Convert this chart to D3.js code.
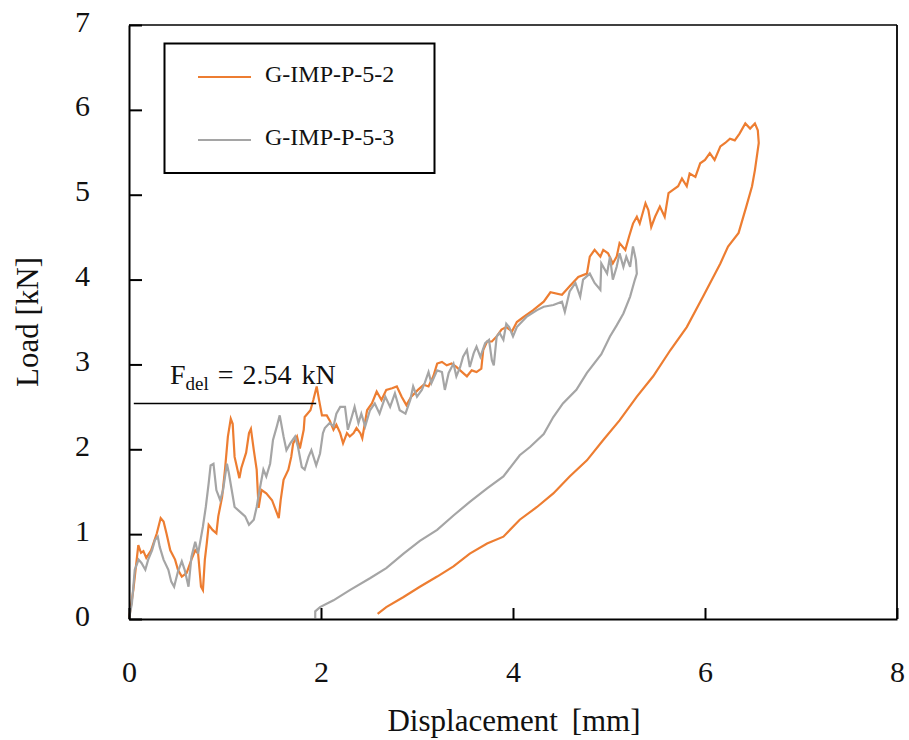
<!DOCTYPE html>
<html>
<head>
<meta charset="utf-8">
<script src="https://cdn.jsdelivr.net/npm/d3@7"></script>
<style>
  html, body { margin: 0; padding: 0; background: #fff; }
  svg { display: block; font-family: "Liberation Serif", "DejaVu Serif", serif; }
</style>
</head>
<body>
<svg id="chart" width="909" height="740"></svg>
<script>
// ---------- data ----------
const seriesNames = ["G-IMP-P-5-2", "G-IMP-P-5-3"];
const xTicks = [0, 2, 4, 6, 8];
const yTicks = [0, 1, 2, 3, 4, 5, 6, 7];
const fDel = 2.54;
const fDelStart = 0.05, fDelEnd = 1.95;

// G-IMP-P-5-2 (orange): displacement [mm], load [kN]
const disp52 = [0,0.045,0.097,0.125,0.15,0.18,0.23,0.29,0.33,0.36,0.39,0.43,0.48,0.51,0.55,0.60,0.65,0.69,0.72,0.75,0.77,0.79,0.81,0.83,0.87,0.91,0.93,0.97,1.00,1.03,1.06,1.08,1.10,1.15,1.17,1.22,1.25,1.27,1.30,1.33,1.35,1.38,1.43,1.49,1.53,1.56,1.58,1.61,1.66,1.69,1.71,1.75,1.78,1.82,1.83,1.89,1.92,1.955,1.98,2.01,2.06,2.09,2.13,2.16,2.20,2.23,2.27,2.30,2.34,2.37,2.41,2.43,2.48,2.53,2.58,2.63,2.68,2.74,2.79,2.84,2.89,2.94,3.01,3.07,3.12,3.17,3.21,3.26,3.31,3.36,3.41,3.47,3.52,3.57,3.62,3.67,3.69,3.73,3.78,3.83,3.88,3.93,3.99,4.04,4.10,4.21,4.32,4.39,4.51,4.59,4.68,4.77,4.80,4.85,4.91,4.94,4.99,5.04,5.08,5.11,5.17,5.21,5.25,5.29,5.32,5.38,5.41,5.44,5.48,5.53,5.58,5.62,5.67,5.72,5.76,5.81,5.84,5.90,5.95,6.00,6.05,6.10,6.16,6.21,6.26,6.31,6.36,6.42,6.47,6.52,6.55,6.56,
  6.52,6.49,6.43,6.35,6.24,6.16,5.98,5.81,5.64,5.46,5.29,5.11,4.94,4.77,4.59,4.42,4.25,4.07,3.90,3.73,3.55,3.38,3.21,3.03,2.86,2.68,2.59];
const load52 = [0,0.34,0.87,0.78,0.80,0.72,0.81,1.01,1.19,1.15,1.01,0.81,0.70,0.58,0.50,0.54,0.70,0.81,0.77,0.38,0.34,0.70,0.89,1.11,1.05,1.01,1.21,1.44,1.76,2.15,2.36,2.30,1.91,1.66,1.78,1.96,2.19,2.24,1.99,1.76,1.31,1.52,1.48,1.40,1.28,1.19,1.40,1.64,1.76,1.91,2.07,2.15,2.01,2.23,2.38,2.46,2.58,2.74,2.58,2.40,2.40,2.34,2.23,2.29,2.19,2.07,2.19,2.15,2.19,2.25,2.19,2.13,2.46,2.54,2.68,2.58,2.70,2.72,2.74,2.62,2.52,2.62,2.70,2.76,2.74,2.86,3.01,3.03,2.99,3.01,2.97,2.91,2.86,2.93,2.91,2.95,3.17,3.27,3.27,3.33,3.41,3.44,3.39,3.50,3.55,3.64,3.74,3.85,3.82,3.92,4.03,4.07,4.27,4.35,4.27,4.35,4.31,4.19,4.27,4.43,4.35,4.51,4.66,4.74,4.66,4.90,4.82,4.62,4.74,4.86,4.74,5.02,5.06,5.10,5.19,5.10,5.25,5.21,5.37,5.41,5.49,5.41,5.57,5.61,5.66,5.64,5.72,5.84,5.78,5.84,5.76,5.61,
  5.29,5.10,4.86,4.55,4.39,4.19,3.80,3.44,3.17,2.86,2.62,2.34,2.11,1.87,1.68,1.48,1.32,1.17,0.97,0.89,0.77,0.62,0.50,0.38,0.26,0.14,0.06];

// G-IMP-P-5-3 (grey)
const disp53 = [0,0.03,0.06,0.10,0.13,0.17,0.20,0.24,0.27,0.30,0.32,0.36,0.41,0.44,0.47,0.51,0.55,0.58,0.62,0.65,0.69,0.72,0.77,0.80,0.83,0.85,0.88,0.91,0.95,0.98,1.02,1.04,1.07,1.10,1.16,1.21,1.25,1.30,1.33,1.36,1.40,1.43,1.47,1.50,1.54,1.57,1.61,1.64,1.68,1.73,1.76,1.80,1.83,1.87,1.90,1.95,1.99,2.02,2.04,2.09,2.13,2.16,2.20,2.25,2.28,2.32,2.35,2.39,2.42,2.46,2.51,2.56,2.61,2.67,2.72,2.77,2.82,2.88,2.93,2.96,3.00,3.05,3.08,3.12,3.15,3.21,3.26,3.29,3.33,3.38,3.41,3.45,3.48,3.52,3.55,3.59,3.62,3.66,3.71,3.75,3.78,3.80,3.83,3.86,3.90,3.93,3.96,4.00,4.04,4.14,4.25,4.32,4.42,4.51,4.54,4.59,4.65,4.70,4.73,4.80,4.85,4.91,4.92,4.98,5.01,5.04,5.08,5.11,5.15,5.18,5.22,5.25,5.28,5.29,
  5.27,5.22,5.15,5.08,5.01,4.92,4.77,4.66,4.52,4.42,4.32,4.18,4.07,3.90,3.73,3.55,3.38,3.21,3.03,2.86,2.68,2.51,2.30,2.13,1.99,1.94,1.94];
const load53 = [0,0.18,0.58,0.70,0.66,0.58,0.70,0.81,0.93,0.97,0.85,0.70,0.58,0.44,0.38,0.56,0.68,0.58,0.38,0.73,0.91,0.77,1.09,1.32,1.60,1.81,1.83,1.52,1.40,1.52,1.83,1.72,1.52,1.32,1.26,1.21,1.11,1.17,1.32,1.52,1.76,1.68,1.83,2.11,2.27,2.40,2.15,1.99,2.07,2.15,2.03,1.79,1.76,1.91,1.99,1.81,1.95,2.19,2.25,2.31,2.27,2.42,2.50,2.50,2.23,2.38,2.50,2.31,2.42,2.27,2.46,2.54,2.42,2.62,2.50,2.66,2.46,2.42,2.58,2.74,2.62,2.70,2.78,2.91,2.78,2.93,2.91,2.70,2.90,3.01,2.86,2.97,3.09,3.17,2.97,3.13,3.21,3.09,3.25,3.29,3.05,2.99,3.33,3.37,3.29,3.48,3.44,3.33,3.44,3.56,3.64,3.68,3.70,3.74,3.62,3.86,3.96,3.80,4.00,4.07,3.96,3.88,4.19,4.07,4.27,4.00,4.15,4.31,4.15,4.27,4.15,4.39,4.23,4.07,
  4.00,3.80,3.60,3.46,3.33,3.12,2.90,2.70,2.54,2.38,2.18,2.03,1.93,1.68,1.54,1.38,1.22,1.05,0.92,0.77,0.60,0.48,0.34,0.22,0.14,0.09,0.01];

const colors = ["#ED7D31", "#A5A5A5"];

// ---------- chart ----------
(function () {
const svg = d3.select("#chart");
svg.append("rect").attr("width", 909).attr("height", 740).attr("fill", "#fff");

const mLeft = 129, mRight = 897, mTop = 25, mBottom = 619;
const x = d3.scaleLinear().domain([0, 8]).range([mLeft, mRight]);
const y = d3.scaleLinear().domain([0, 7]).range([mBottom, mTop]);

// frame (top and right)
svg.append("line").attr("x1", mLeft).attr("x2", mRight).attr("y1", mTop).attr("y2", mTop)
  .attr("stroke", "#000").attr("stroke-width", 1.6);
svg.append("line").attr("x1", mRight).attr("x2", mRight).attr("y1", mTop).attr("y2", mBottom)
  .attr("stroke", "#000").attr("stroke-width", 1.8);

// curves
const line = d3.line().x(d => x(d[0])).y(d => y(d[1]));
const data52 = disp52.map((d, i) => [d, load52[i]]);
const data53 = disp53.map((d, i) => [d, load53[i]]);
[data52, data53].forEach((ds, i) => {
  svg.append("path").datum(ds).attr("d", line)
    .attr("fill", "none").attr("stroke", colors[i]).attr("stroke-width", 2.2)
    .attr("stroke-linejoin", "miter");
});

// axes
const fmt = d3.format("d");
const yAxis = d3.axisLeft(y).tickValues(yTicks).tickFormat(fmt).tickSizeInner(-13).tickSizeOuter(0).tickPadding(39);
const gy = svg.append("g").attr("transform", `translate(${mLeft},0)`).call(yAxis);
const xAxis = d3.axisBottom(x).tickValues(xTicks).tickFormat(fmt).tickSizeInner(-11).tickSizeOuter(0).tickPadding(42);
const gx = svg.append("g").attr("transform", `translate(0,${mBottom})`).call(xAxis);
[gx, gy].forEach(g => {
  g.select(".domain").attr("stroke", "#000").attr("stroke-width", 2);
  g.selectAll(".tick line").attr("stroke", "#000").attr("stroke-width", 2);
  g.selectAll(".tick text").attr("fill", "#111")
    .style("font-family", '"Liberation Serif", serif').style("font-size", "30px");
});
gy.selectAll(".tick text").attr("dy", "0.2em");

// axis titles
svg.append("text").attr("x", (mLeft + mRight) / 2 + 1).attr("y", 731)
  .attr("text-anchor", "middle").style("font-size", "31px").attr("fill", "#111")
  .attr("word-spacing", "6px")
  .text("Displacement [mm]");
svg.append("text").attr("transform", "translate(38,322) rotate(-90)")
  .attr("text-anchor", "middle").style("font-size", "31px").attr("fill", "#111")
  .text("Load [kN]");

// F_del line & label
svg.append("line").attr("x1", x(fDelStart)).attr("x2", x(fDelEnd))
  .attr("y1", y(fDel)).attr("y2", y(fDel)).attr("stroke", "#000").attr("stroke-width", 1.6);
const ft = svg.append("text").attr("x", 170).attr("y", 384).style("font-size", "28px").attr("fill", "#111");
ft.append("tspan").text("F");
ft.append("tspan").attr("dy", 6).style("font-size", "19px").text("del");
ft.append("tspan").attr("dy", -6).attr("dx", 9).text("=");
ft.append("tspan").attr("dx", 9).text(fDel.toFixed(2));
ft.append("tspan").attr("dx", 10).text("kN");

// legend
const lg = svg.append("g");
lg.append("rect").attr("x", 164.5).attr("y", 43.5).attr("width", 270).attr("height", 129.5)
  .attr("fill", "#fff").attr("stroke", "#000").attr("stroke-width", 2);
seriesNames.forEach((name, i) => {
  const ly = 77 + i * 63;
  lg.append("line").attr("x1", 198).attr("x2", 251).attr("y1", ly).attr("y2", ly)
    .attr("stroke", colors[i]).attr("stroke-width", 2);
  lg.append("text").attr("x", 265).attr("y", ly + 5).style("font-size", "24px")
    .attr("fill", "#111").text(name);
});
})();
</script>
</body>
</html>
